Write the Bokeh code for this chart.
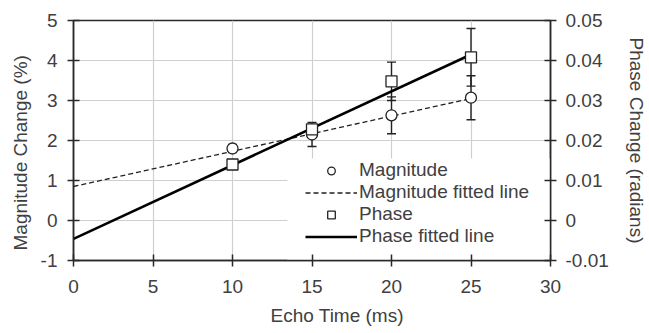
from bokeh.plotting import figure
from bokeh.models import (Range1d, LinearAxis, Whisker, ColumnDataSource, Legend, LegendItem,
                          FixedTicker, Title, BoxAnnotation)
from bokeh.embed import file_html
from bokeh.resources import INLINE

# data
echo_time = [10, 15, 20, 25]
magnitude = [1.8, 2.15, 2.63, 3.07]
magnitude_err = [0.1, 0.3, 0.46, 0.55]
phase = [0.014, 0.0228, 0.0348, 0.0408]
phase_err = [0.001, 0.001, 0.0048, 0.0072]
fit_x = [0, 25]
magnitude_fit = [0.85, 3.05]
phase_fit = [-0.0046, 0.0415]
x_ticks = [0, 5, 10, 15, 20, 25, 30]
left_ticks = [-1, 0, 1, 2, 3, 4, 5]
right_ticks = [-0.01, 0, 0.01, 0.02, 0.03, 0.04, 0.05]
left_labels = ["-1", "0", "1", "2", "3", "4", "5"]
right_labels = ["-0.01", "0", "0.01", "0.02", "0.03", "0.04", "0.05"]

FONT = "Liberation Sans"
FS = "19px"
TXT = "#404040"
AX = "#2a2a2a"
W, H = 649, 333

p = figure(width=W, height=H, output_backend="svg", toolbar_location=None,
           x_range=Range1d(0, 30), y_range=Range1d(-1, 5),
           min_border_left=73, min_border_right=W - 553, min_border_top=20, min_border_bottom=73)
p.extra_y_ranges = {"phase": Range1d(-0.01, 0.05)}
p.outline_line_color = AX
p.outline_line_width = 1.5
p.background_fill_color = "white"

# grid
p.xgrid.ticker = FixedTicker(ticks=x_ticks)
p.ygrid.ticker = FixedTicker(ticks=left_ticks)
for g in (p.xgrid, p.ygrid):
    g.grid_line_color = "#cfcfcf"
    g.grid_line_width = 1.2

def style_axis(ax):
    ax.axis_line_color = AX
    ax.axis_line_width = 1.5
    ax.major_tick_line_color = AX
    ax.major_tick_line_width = 1.5
    ax.major_tick_in = 6
    ax.major_tick_out = 6
    ax.minor_tick_line_color = None
    ax.major_label_text_font = FONT
    ax.major_label_text_font_size = FS
    ax.major_label_text_color = TXT
    ax.axis_label_text_font = FONT
    ax.axis_label_text_font_size = FS
    ax.axis_label_text_color = TXT
    ax.axis_label_text_font_style = "normal"

xa = p.xaxis[0]
xa.ticker = FixedTicker(ticks=x_ticks)
style_axis(xa)
xa.major_label_standoff = 13

ya = p.yaxis[0]
ya.ticker = FixedTicker(ticks=left_ticks)
style_axis(ya)
ya.major_label_standoff = 10
ya.major_label_overrides = dict(zip(left_ticks, left_labels))

ra = LinearAxis(y_range_name="phase", ticker=FixedTicker(ticks=right_ticks),
                axis_label="Phase Change (radians)")
style_axis(ra)
ra.major_label_standoff = 9
ra.axis_label_standoff = 14
ra.major_label_overrides = dict(zip(right_ticks, right_labels))
p.add_layout(ra, "right")

# axis titles placed as side titles
xt = Title(text="Echo Time (ms)", align="left", offset=197, standoff=14,
           text_font=FONT, text_font_size=FS, text_color=TXT, text_font_style="normal")
p.add_layout(xt, "below")
yt = Title(text="Magnitude Change (%)", align="left", offset=10, standoff=14,
           text_font=FONT, text_font_size=FS, text_color=TXT, text_font_style="normal")
p.add_layout(yt, "left")

# white backing of legend
p.add_layout(BoxAnnotation(left=13.45, right=30, bottom=-1, top=1.55, fill_color="white",
                           fill_alpha=1.0, line_color=None, level="underlay"))

# fitted lines
r_mfit = p.line(fit_x, magnitude_fit, line_color="#222222", line_width=1.3, line_dash="5 3")
r_pfit = p.line(fit_x, phase_fit, y_range_name="phase", line_color="black", line_width=2.6)

# error bars
msrc = ColumnDataSource(dict(x=echo_time, y=magnitude,
                             lo=[v - e for v, e in zip(magnitude, magnitude_err)],
                             hi=[v + e for v, e in zip(magnitude, magnitude_err)]))
psrc = ColumnDataSource(dict(x=echo_time, y=phase,
                             lo=[v - e for v, e in zip(phase, phase_err)],
                             hi=[v + e for v, e in zip(phase, phase_err)]))
for src, rn in ((msrc, "default"), (psrc, "phase")):
    w = Whisker(source=src, base="x", lower="lo", upper="hi", y_range_name=rn,
                line_color="#222222", line_width=1.4)
    w.upper_head.size = 9
    w.lower_head.size = 9
    w.upper_head.line_color = "#222222"
    w.lower_head.line_color = "#222222"
    w.upper_head.line_width = 1.4
    w.lower_head.line_width = 1.4
    p.add_layout(w)

r_mag = p.scatter("x", "y", source=msrc, marker="circle", size=11, fill_color="white",
                  line_color="#222222", line_width=1.3)
r_ph = p.scatter("x", "y", source=psrc, marker="square", size=11, fill_color="white",
                 line_color="#222222", line_width=1.3, y_range_name="phase")

legend = Legend(items=[LegendItem(label="Magnitude", renderers=[r_mag]),
                       LegendItem(label="Magnitude fitted line", renderers=[r_mfit]),
                       LegendItem(label="Phase", renderers=[r_ph]),
                       LegendItem(label="Phase fitted line", renderers=[r_pfit])],
                location=(232, 13))
legend.label_text_font = FONT
legend.label_text_font_size = FS
legend.label_text_color = TXT
legend.glyph_width = 52
legend.glyph_height = 19
legend.label_height = 19
legend.spacing = 0
legend.label_standoff = 2
legend.padding = 2
legend.margin = 0
legend.border_line_color = None
legend.background_fill_alpha = 0.0
p.add_layout(legend, "center")

open("out.html", "w").write(file_html(p, INLINE))
